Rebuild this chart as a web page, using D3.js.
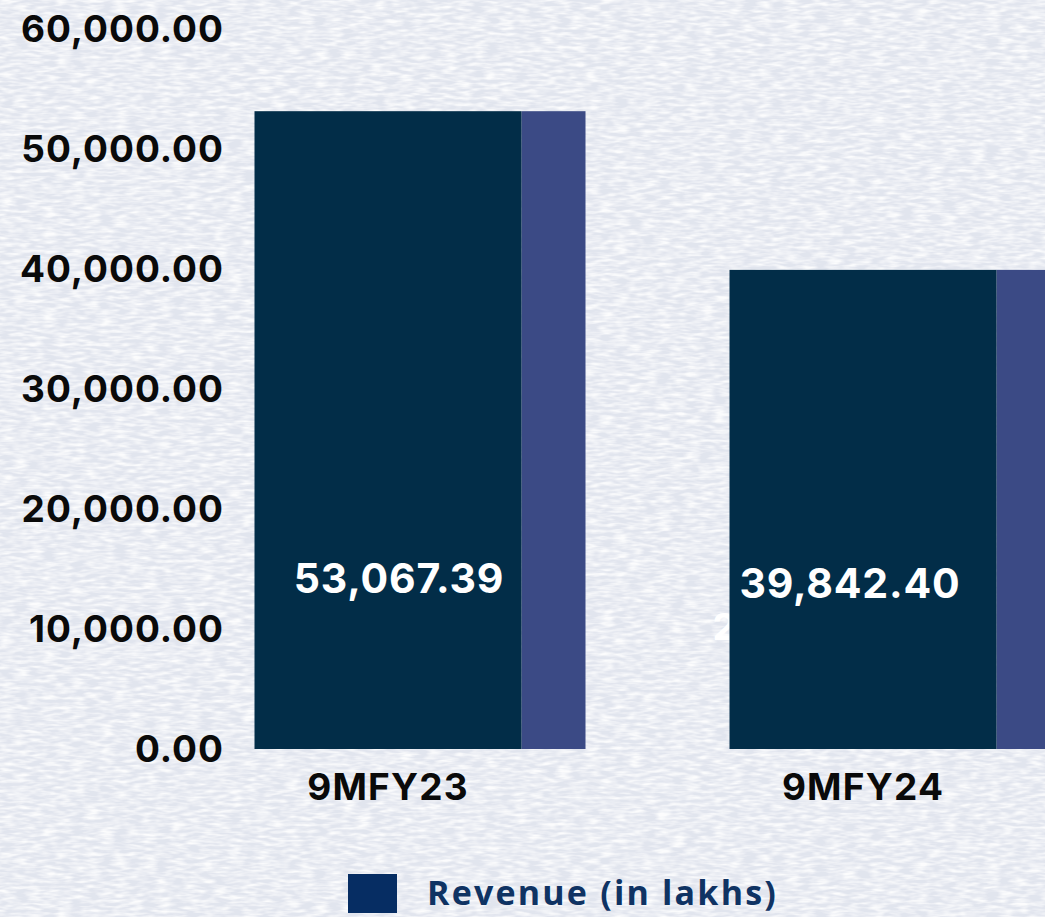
<!DOCTYPE html>
<html>
<head>
<meta charset="utf-8">
<script src="https://cdn.jsdelivr.net/npm/d3@7"></script>
<style>
  html, body { margin: 0; padding: 0; background: #e8ebf1; }
  svg { display: block; }
</style>
</head>
<body>
<svg id="main_svg" width="1045" height="917"></svg>
<script>
// data
const categories = ['9MFY23', '9MFY24'];
const revenue = [53067.39, 39842.40];
const shadowSeries = [53067.39, 39842.40];
const yTicks = [0, 10000, 20000, 30000, 40000, 50000, 60000];
const legendLabel = 'Revenue (in lakhs)';

const width = 1045;
const height = 917;
const svg = d3.select('#main_svg');

// textured background
const defs = svg.append('defs');
const noise = defs.append('filter')
  .attr('id', 'paper')
  .attr('x', 0).attr('y', 0).attr('width', '100%').attr('height', '100%');
noise.append('feTurbulence')
  .attr('type', 'fractalNoise')
  .attr('baseFrequency', '0.07 0.3')
  .attr('numOctaves', 2)
  .attr('seed', 4);
noise.append('feColorMatrix')
  .attr('type', 'matrix')
  .attr('values', '0 0 0 0 1  0 0 0 0 1  0 0 0 0 1  0 0 0 -2.2 1.45');

svg.append('rect')
  .attr('width', width).attr('height', height)
  .attr('fill', '#e1e5ee');
svg.append('rect')
  .attr('width', width).attr('height', height)
  .attr('filter', 'url(#paper)')
  .attr('opacity', 0.9);

// scales
const y = d3.scaleLinear().domain([0, 60000]).range([748, 28]);
const x = d3.scaleBand().domain(categories).range([150.5, 1100.5]).padding(0);
const barW = 267;
const shadowW = 64;
const barX = (d) => x(d) + x.bandwidth() / 2 - barW / 2;

// y axis
const yAxis = svg.append('g')
  .attr('transform', 'translate(224,0)')
  .call(d3.axisLeft(y).tickValues(yTicks).tickFormat(d3.format(',.2f')).tickSize(0).tickPadding(0));
yAxis.select('.domain').remove();
yAxis.selectAll('text')
  .attr('fill', '#0a0a0a')
  .style('font-family', 'Inter, sans-serif')
  .style('font-size', '37px')
  .style('font-weight', 700)
  .style('letter-spacing', '1px')
  .attr('dy', '0.36em');

// partially hidden label behind second bar
svg.append('text')
  .attr('x', barX(categories[1]) - 17)
  .attr('y', 640)
  .attr('fill', '#ffffff')
  .style('font-family', 'Inter, sans-serif')
  .style('font-size', '37px')
  .style('font-weight', 700)
  .text('2');

// secondary bars
svg.selectAll('.shadow_bar')
  .data(categories)
  .enter().append('rect')
  .attr('class', 'shadow_bar')
  .attr('x', (d) => barX(d) + barW)
  .attr('y', (d, i) => y(shadowSeries[i]))
  .attr('width', shadowW)
  .attr('height', (d, i) => y(0) - y(shadowSeries[i]) + 1)
  .attr('fill', '#3b4a85');

// main bars
svg.selectAll('.rev_bar')
  .data(categories)
  .enter().append('rect')
  .attr('class', 'rev_bar')
  .attr('x', (d) => barX(d))
  .attr('y', (d, i) => y(revenue[i]))
  .attr('width', barW)
  .attr('height', (d, i) => y(0) - y(revenue[i]) + 1)
  .attr('fill', '#022d48');

// value labels
const labelDx = [11, -13];
svg.selectAll('.val_label')
  .data(categories)
  .enter().append('text')
  .attr('class', 'val_label')
  .attr('x', (d, i) => x(d) + x.bandwidth() / 2 + labelDx[i])
  .attr('y', (d, i) => [593, 598][i])
  .attr('text-anchor', 'middle')
  .attr('fill', '#ffffff')
  .style('font-family', 'Inter, sans-serif')
  .style('font-size', '41px')
  .style('font-weight', 700)
  .style('letter-spacing', '0.8px')
  .text((d, i) => d3.format(',.2f')(revenue[i]));

// category labels
svg.selectAll('.cat_label')
  .data(categories)
  .enter().append('text')
  .attr('class', 'cat_label')
  .attr('x', (d) => x(d) + x.bandwidth() / 2)
  .attr('y', 800)
  .attr('text-anchor', 'middle')
  .attr('fill', '#0a0a0a')
  .style('font-family', 'Inter, sans-serif')
  .style('font-size', '37px')
  .style('font-weight', 700)
  .style('letter-spacing', '1.2px')
  .text((d) => d);

// legend
const legend = svg.append('g').attr('transform', 'translate(348,874)');
legend.append('rect')
  .attr('width', 49).attr('height', 39)
  .attr('fill', '#062d63');
legend.append('text')
  .attr('x', 79)
  .attr('y', 31)
  .attr('fill', '#0f3363')
  .style('font-family', '"Open Sans", sans-serif')
  .style('font-size', '34px')
  .style('font-weight', 700)
  .style('letter-spacing', '2.2px')
  .text(legendLabel);
</script>
</body>
</html>
